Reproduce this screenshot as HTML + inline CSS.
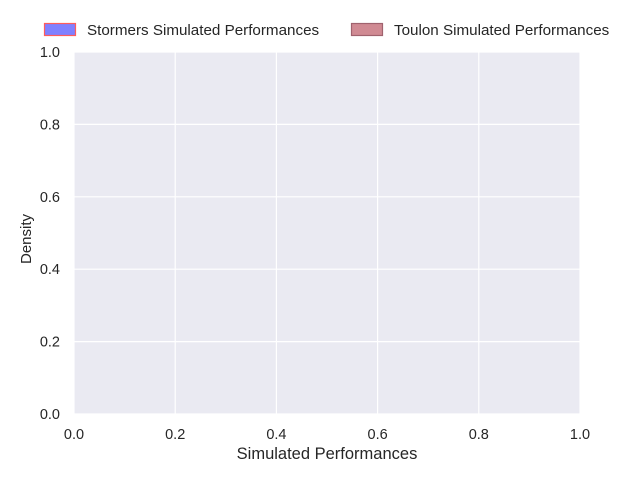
<!DOCTYPE html>
<html><head><meta charset="utf-8"><style>
body{margin:0;background:#fff;font-family:"Liberation Sans",sans-serif}
svg text{font-family:"Liberation Sans",sans-serif;fill:#262626}
</style></head><body>
<svg width="640" height="480" xmlns="http://www.w3.org/2000/svg">
<rect x="74" y="52" width="506" height="362" fill="#eaeaf2"/>
<g id="grid"></g>
<g id="ticks"></g>
<text x="327" y="459" font-size="16.5" text-anchor="middle">Simulated Performances</text>
<text x="31" y="239" font-size="15" text-anchor="middle" transform="rotate(-90 31 239)">Density</text>
<g>
<rect x="44.5" y="23.5" width="31" height="12" fill="#8080ff" stroke="#ff5c5c" stroke-width="1.2"/>
<text x="87" y="35" font-size="15.2">Stormers Simulated Performances</text>
<rect x="351.5" y="23.5" width="31" height="12" fill="#d08a93" stroke="#a0626e" stroke-width="1.2"/>
<text x="394" y="35" font-size="15.2">Toulon Simulated Performances</text>
</g>
</svg>
<script>
const xTicks=[0,0.2,0.4,0.6,0.8,1.0];
const yTicks=[0,0.2,0.4,0.6,0.8,1.0];
const xLabels=["0.0","0.2","0.4","0.6","0.8","1.0"];
const yLabels=["0.0","0.2","0.4","0.6","0.8","1.0"];
const NS="http://www.w3.org/2000/svg";
const X=v=>74+v*506, Y=v=>414-v*362;
const grid=document.getElementById('grid'), ticks=document.getElementById('ticks');
function mk(t,a){const e=document.createElementNS(NS,t);for(const k in a)e.setAttribute(k,a[k]);return e;}
xTicks.forEach((v,i)=>{
 const l=mk('line',{x1:X(v),x2:X(v),y1:52,y2:414,stroke:'#fff','stroke-width':1.2});
 
 
 grid.appendChild(l);
 const t=mk('text',{x:X(v),y:439,'font-size':14.5,'text-anchor':'middle'});t.textContent=xLabels[i];
 
 
 ticks.appendChild(t);
});
yTicks.forEach((v,i)=>{
 const l=mk('line',{x1:74,x2:580,y1:Y(v),y2:Y(v),stroke:'#fff','stroke-width':1.2});
 
 
 grid.appendChild(l);
 const t=mk('text',{x:60,y:Y(v)+5,'font-size':14.5,'text-anchor':'end'});t.textContent=yLabels[i];
 
 
 ticks.appendChild(t);
});
</script>
</body></html>
